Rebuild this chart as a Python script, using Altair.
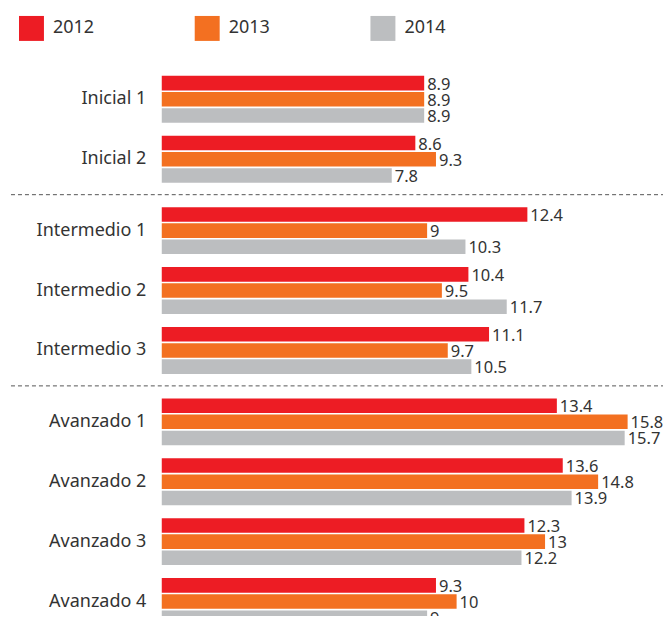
import altair as alt
import pandas as pd

years = ["2012", "2013", "2014"]
colors = ["#ED1C24", "#F37021", "#BCBEC0"]

groups = [
    ["Inicial 1", "Inicial 2"],
    ["Intermedio 1", "Intermedio 2", "Intermedio 3"],
    ["Avanzado 1", "Avanzado 2", "Avanzado 3", "Avanzado 4"],
]
categories = [c for g in groups for c in g]

v2012 = [8.9, 8.6, 12.4, 10.4, 11.1, 13.4, 13.6, 12.3, 9.3]
v2013 = [8.9, 9.3, 9, 9.5, 9.7, 15.8, 14.8, 13, 10]
v2014 = [8.9, 7.8, 10.3, 11.7, 10.5, 15.7, 13.9, 12.2, 9]

rows = []
for yr, vals in zip(years, [v2012, v2013, v2014]):
    for c, v in zip(categories, vals):
        rows.append({"cat": c, "year": yr, "value": v, "label": f"{v:g}"})
df = pd.DataFrame(rows)

FONT = "Noto Sans"
STEP = 60
WIDTH = 502

color = alt.Color(
    "year:N",
    sort=years,
    scale=alt.Scale(domain=years, range=colors),
    legend=alt.Legend(
        title=None,
        orient="none",
        direction="horizontal",
        legendX=-143,
        legendY=-53.5,
        padding=0,
        symbolType="square",
        symbolSize=625,
        symbolStrokeWidth=0,
        symbolOpacity=1,
        labelFontSize=18,
        labelFont=FONT,
        labelColor="#333333",
        labelOffset=9,
        columnPadding=100,
    ),
)


def panel(cats, with_rule):
    d = df[df["cat"].isin(cats)]
    y = alt.Y(
        "cat:N",
        sort=cats,
        title=None,
        scale=alt.Scale(paddingInner=0.217, paddingOuter=0.1085),
        axis=alt.Axis(
            domain=False,
            ticks=False,
            labelFontSize=18,
            labelFont=FONT,
            labelColor="#333333",
            labelPadding=16,
        ),
    )
    yoff = alt.YOffset("year:N", sort=years, scale=alt.Scale(paddingInner=0.1, paddingOuter=0))
    x = alt.X("value:Q", scale=alt.Scale(domain=[0, 17], nice=False, zero=True), axis=None)
    base = alt.Chart(d).encode(y=y, yOffset=yoff, x=x)
    bars = base.mark_bar().encode(color=color)
    text = base.mark_text(
        align="left", baseline="middle", dx=3, dy=1.5, fontSize=16.5, font=FONT, color="#333333"
    ).encode(text="label:N")
    layers = [bars, text]
    if with_rule:
        rule = alt.Chart(pd.DataFrame({"a": [0]})).mark_rule(
            strokeDash=[4, 3], color="#555555", strokeWidth=1
        ).encode(x=alt.value(-151), x2=alt.value(502), y=alt.value(-6))
        layers.append(rule)
    return alt.layer(*layers).properties(width=WIDTH, height=STEP * len(cats))


chart = alt.vconcat(
    panel(groups[0], False),
    panel(groups[1], True),
    panel(groups[2], True),
    spacing=11.5,
    bounds="flush",
).properties(
    padding={"left": 2, "top": 7, "right": -1, "bottom": -16}
).configure_view(stroke=None)

chart.save("out.html", embed_options={"renderer": "svg", "actions": False})
